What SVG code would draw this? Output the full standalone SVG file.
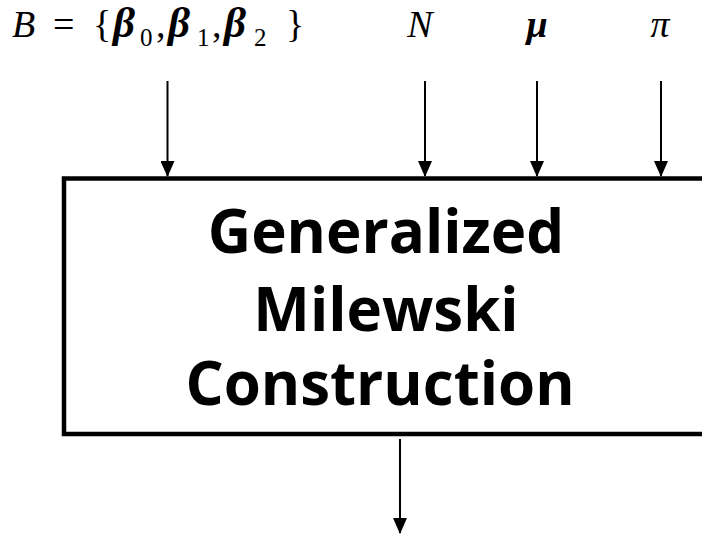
<svg xmlns="http://www.w3.org/2000/svg" width="702" height="534" viewBox="0 0 702 534">
<style>
.math{font-family:"Liberation Serif","DejaVu Serif",serif;font-size:38px;fill:#000}
.it{font-style:italic}
.bi{font-style:italic;font-weight:bold}
.beta{font-size:43px}
.sub{font-size:25px}
.title{font-family:"Open Sans","Noto Sans",sans-serif;font-weight:700;font-size:60px;fill:#000;text-anchor:middle}
.conn{stroke:#000;stroke-width:2;fill:none;marker-end:url(#ah)}
</style>
<defs>
<marker id="ah" markerUnits="userSpaceOnUse" markerWidth="16" markerHeight="14" viewBox="0 0 16 14" refX="15" refY="7" orient="auto">
<path d="M0,0 L16,7 L0,14 Z" fill="#000"/>
</marker>
</defs>
<rect width="702" height="534" fill="#fff"/>
<g id="labels">
<text class="math" y="37"><tspan class="it" x="12">B</tspan><tspan x="53">=</tspan><tspan x="93">{</tspan><tspan class="bi beta" x="113">β</tspan><tspan class="sub" x="140" dy="9">0</tspan><tspan x="156" dy="-9">,</tspan><tspan class="bi beta" x="168">β</tspan><tspan class="sub" x="197" dy="9">1</tspan><tspan x="212" dy="-9">,</tspan><tspan class="bi beta" x="224">β</tspan><tspan class="sub" x="254" dy="9">2</tspan><tspan x="286" dy="-9">}</tspan></text>
<text class="math it" x="420" y="37" text-anchor="middle">N</text>
<text class="math bi" x="537" y="37" text-anchor="middle">μ</text>
<text class="math it" x="660" y="37" text-anchor="middle" font-size="40">π</text>
</g>
<g id="node-gmc">
<rect x="64" y="178.5" width="680" height="255.5" fill="#fff" stroke="#000" stroke-width="4.5"/>
<text class="title" x="386" y="253">Generalized</text>
<text class="title" x="386" y="331">Milewski</text>
<text class="title" x="380" y="405">Construction</text>
</g>
<g id="connectors">
<path class="conn" d="M167.5,81 V176"/>
<path class="conn" d="M425,81 V176"/>
<path class="conn" d="M537,81 V176"/>
<path class="conn" d="M661,81 V176"/>
<path class="conn" d="M400,439 V533"/>
</g>
</svg>
